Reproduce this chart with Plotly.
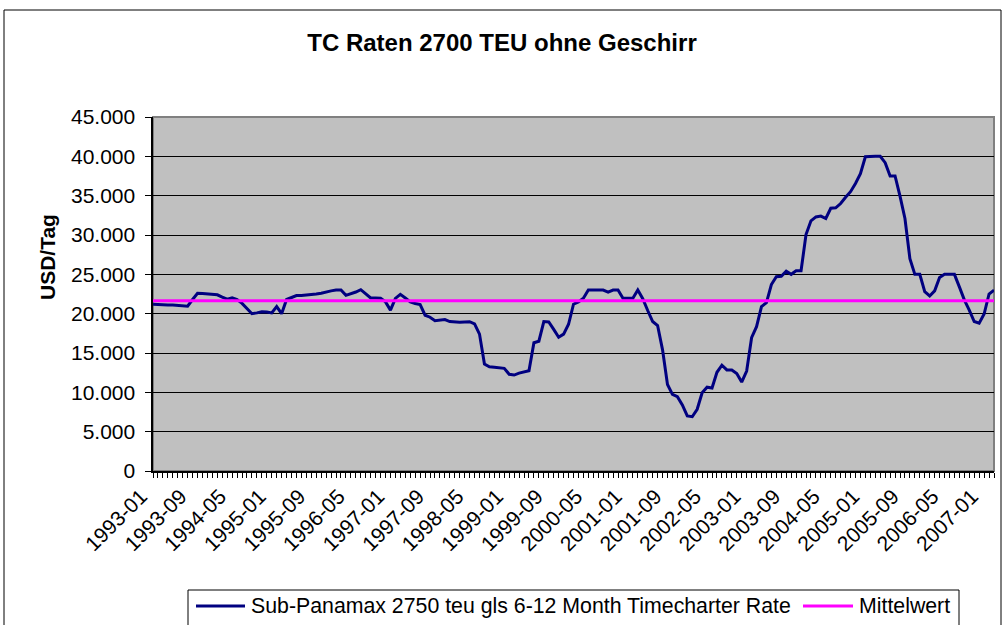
import plotly.graph_objects as go

# ---- data ----
months = [f"{y}-{m:02d}" for y in range(1993, 2008) for m in range(1, 13)][:171]

rates = [
    21200, 21150, 21100, 21100, 21100, 21050, 21000, 20950, 21800, 22600,   # 1993-01 .. 1993-10
    22550, 22500, 22450, 22400, 22100, 21850, 22000, 21800, 21300, 20600,   # 1993-11 .. 1994-08
    20000, 20100, 20250, 20200, 20100, 20900, 20000, 21800, 22100, 22300,   # 1994-09 .. 1995-06
    22300, 22350, 22400, 22500, 22600, 22800, 22900, 23000, 23000, 22330,   # 1995-07 .. 1996-04
    22500, 22750, 23050, 22500, 22000, 22000, 21950, 21500, 20450, 21950,   # 1996-05 .. 1997-02
    22450, 22000, 21500, 21300, 21150, 19800, 19550, 19100, 19200, 19250,   # 1997-03 .. 1997-12
    19000, 18950, 18900, 18950, 18980, 18700, 17400, 13600, 13250, 13200,   # 1998-01 .. 1998-10
    13100, 13050, 12300, 12200, 12450, 12650, 12750, 16300, 16500, 19000,   # 1998-11 .. 1999-08
    18950, 18000, 17000, 17400, 18650, 21200, 21500, 21950, 23000, 23000,   # 1999-09 .. 2000-06
    23000, 23000, 22750, 23000, 23000, 21950, 21950, 21950, 23000, 21900,   # 2000-07 .. 2001-04
    20400, 19000, 18500, 15400, 11000, 9750, 9450, 8400, 7000, 6900,        # 2001-05 .. 2002-02
    7850, 9950, 10650, 10550, 12550, 13450, 12850, 12850, 12400, 11300,     # 2002-03 .. 2002-12
    12700, 16950, 18350, 20900, 21400, 23700, 24700, 24750, 25400, 25000,   # 2003-01 .. 2003-10
    25450, 25450, 30050, 31800, 32300, 32400, 32100, 33400, 33450, 34000,   # 2003-11 .. 2004-08
    34800, 35500, 36550, 37800, 39950, 40000, 40000, 40000, 39200, 37500,   # 2004-09 .. 2005-06
    37500, 34950, 32100, 27000, 25000, 25000, 22800, 22250, 22900, 24600,   # 2005-07 .. 2006-04
    25000, 25000, 25000, 23400, 21750, 20450, 19000, 18800, 19950, 22500,   # 2006-05 .. 2007-02
    23000,                                                                  # 2007-03
]
mean_value = 21650

series_name = "Sub-Panamax 2750 teu gls 6-12 Month Timecharter Rate"
mean_name = "Mittelwert"
title_text = "TC Raten 2700 TEU ohne Geschirr"
y_title = "USD/Tag"
label_step = 8

NAVY = "#000080"
MAGENTA = "#FF00FF"

x_idx = list(range(len(months)))
tick_pos = x_idx[::label_step]
tick_txt = months[::label_step]

FONT = "Liberation Sans, Arial, sans-serif"

fig = go.Figure()
fig.add_trace(go.Scatter(x=x_idx, y=rates, mode="lines", name=series_name,
                         line=dict(color=NAVY, width=3)))
fig.add_trace(go.Scatter(x=[x_idx[0], x_idx[-1]], y=[mean_value, mean_value], mode="lines",
                         name=mean_name, line=dict(color=MAGENTA, width=3)))
# empty helper trace so the overlaid label axis (x2) is drawn
fig.add_trace(go.Scatter(x=[x_idx[0], x_idx[-1]], y=[None, None], xaxis="x2", yaxis="y",
                         mode="lines", showlegend=False, hoverinfo="skip"))

W, H = 1004, 625
L, R, T, B = 153, 10, 117, 154
pw, ph = W - L - R, H - T - B

def px(xp):
    return (xp - L) / pw

def py(yp):
    return (H - B - yp) / ph

# legend drawn as boxed key (line samples + real text), placed like the reference
leg_y = 606
legend_shapes = [
    dict(type="rect", xref="paper", yref="paper", x0=px(188), x1=px(959), y0=py(590), y1=py(640),
         line=dict(color="black", width=1), fillcolor="white", layer="above"),
    dict(type="line", xref="paper", yref="paper", x0=px(196), x1=px(245), y0=py(leg_y), y1=py(leg_y),
         line=dict(color=NAVY, width=3), layer="above"),
    dict(type="line", xref="paper", yref="paper", x0=px(803), x1=px(853), y0=py(leg_y), y1=py(leg_y),
         line=dict(color=MAGENTA, width=3), layer="above"),
]
legend_texts = [
    dict(text=series_name, xref="paper", yref="paper", x=px(249), y=py(leg_y),
         xanchor="left", yanchor="middle", showarrow=False,
         font=dict(family=FONT, size=21.3, color="black")),
    dict(text=mean_name, xref="paper", yref="paper", x=px(857), y=py(leg_y),
         xanchor="left", yanchor="middle", showarrow=False,
         font=dict(family=FONT, size=21.3, color="black")),
]

x_range = [0, len(months) - 1]

fig.update_layout(
    width=W, height=H,
    margin=dict(l=L, r=R, t=T, b=B, pad=0, autoexpand=False),
    paper_bgcolor="white", plot_bgcolor="#C0C0C0",
    separators=",.",
    font=dict(family=FONT, size=21, color="black"),
    title=dict(text=f"<b>{title_text}</b>", x=0.5, xref="container", xanchor="center",
               y=1 - 43 / H, yref="container", yanchor="middle",
               font=dict(family=FONT, size=24, color="black")),
    showlegend=False,
    # main x axis: axis line and one tick mark per month
    xaxis=dict(range=x_range, tickmode="array", tickvals=tick_pos, ticktext=tick_txt,
               showticklabels=False, showgrid=False, zeroline=False, automargin=False,
               showline=True, linecolor="black", linewidth=1.5,
               ticks="outside", ticklen=5, tickcolor="black",
               minor=dict(ticks="outside", dtick=1, tick0=0, ticklen=5, tickcolor="black",
                          showgrid=False)),
    # overlaid x axis: the rotated month labels every 8 months
    xaxis2=dict(range=x_range, overlaying="x", side="bottom", anchor="y",
                tickmode="array", tickvals=tick_pos, ticktext=tick_txt, tickangle=-45,
                ticks="", ticklabelstandoff=8, ticklabelshift=-12,
                showgrid=False, zeroline=False, showline=False, automargin=False,
                tickfont=dict(family=FONT, size=21, color="black")),
    yaxis=dict(range=[0, 45000], tickmode="linear", tick0=0, dtick=5000, tickformat=",d",
               ticksuffix="\u00a0",
               showgrid=True, gridcolor="black", gridwidth=1, zeroline=False, automargin=False,
               showline=True, linecolor="black", linewidth=1.5,
               ticks="outside", ticklen=6, tickcolor="black",
               tickfont=dict(family=FONT, size=21, color="black")),
    shapes=[
        dict(type="rect", xref="paper", yref="paper", x0=0, x1=1, y0=0, y1=1,
             line=dict(color="#808080", width=2), layer="below"),
        dict(type="rect", xref="paper", yref="paper", x0=px(4), x1=px(1001), y0=py(10), y1=py(640),
             line=dict(color="black", width=1), fillcolor="rgba(0,0,0,0)", layer="above"),
    ] + legend_shapes,
    annotations=[
        dict(text=f"<b>{y_title}</b>", xref="paper", yref="paper", x=px(47), y=py(257),
             xanchor="center", yanchor="middle", textangle=-90, showarrow=False,
             font=dict(family=FONT, size=21, color="black")),
    ] + legend_texts,
)

fig.write_html("out.html", config={"displayModeBar": False},
               post_script="document.body.style.margin='0';document.body.style.overflow='hidden';")
